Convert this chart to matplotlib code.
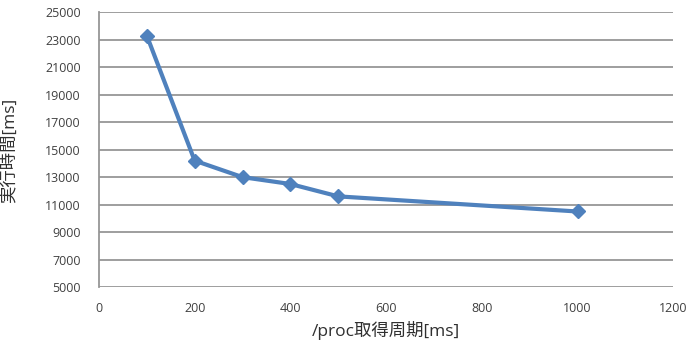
import matplotlib
matplotlib.use("Agg")
import matplotlib.pyplot as plt

# latin glyphs from Open Sans (close to Calibri), japanese from Noto CJK
plt.rcParams['font.family'] = ['Open Sans', 'Noto Sans CJK JP', 'DejaVu Sans']

period = [100, 200, 300, 400, 500, 1000]       # /proc取得周期[ms]
exec_time = [23300, 14200, 13000, 12500, 11600, 10500]  # 実行時間[ms]
xticks = [0, 200, 400, 600, 800, 1000, 1200]
yticks = list(range(5000, 25001, 2000))

fig = plt.figure(figsize=(6.87, 3.48), dpi=100)
ax = fig.add_axes([0.144, 0.175, 0.836, 0.79])

ax.plot(period, exec_time, color='#4F81BD', linewidth=3, marker='D',
        markersize=7, zorder=3)

ax.set_xlim(0, 1200)
ax.set_ylim(5000, 25000)
ax.set_xticks(xticks)
ax.set_yticks(yticks)
ax.yaxis.grid(True, color='#969696', linewidth=1.3)
ax.set_axisbelow(True)

for s in ['top', 'right', 'bottom']:
    ax.spines[s].set_visible(False)
ax.spines['left'].set_color('#969696')
ax.spines['left'].set_linewidth(1.3)

ax.tick_params(length=0, labelsize=9, colors='#404040')
ax.tick_params(axis='y', pad=13)
ax.tick_params(axis='x', pad=11)

# axis titles placed like the original
fig.text(386 / 687, 1 - 330 / 348, '/proc取得周期[ms]', fontsize=12.5,
         color='#303030', ha='center', va='center')
fig.text(9 / 687, 1 - 150 / 348, '実行時間[ms]', fontsize=12.5,
         color='#303030', ha='center', va='center', rotation=90)

fig.savefig('out.png', dpi=100)
